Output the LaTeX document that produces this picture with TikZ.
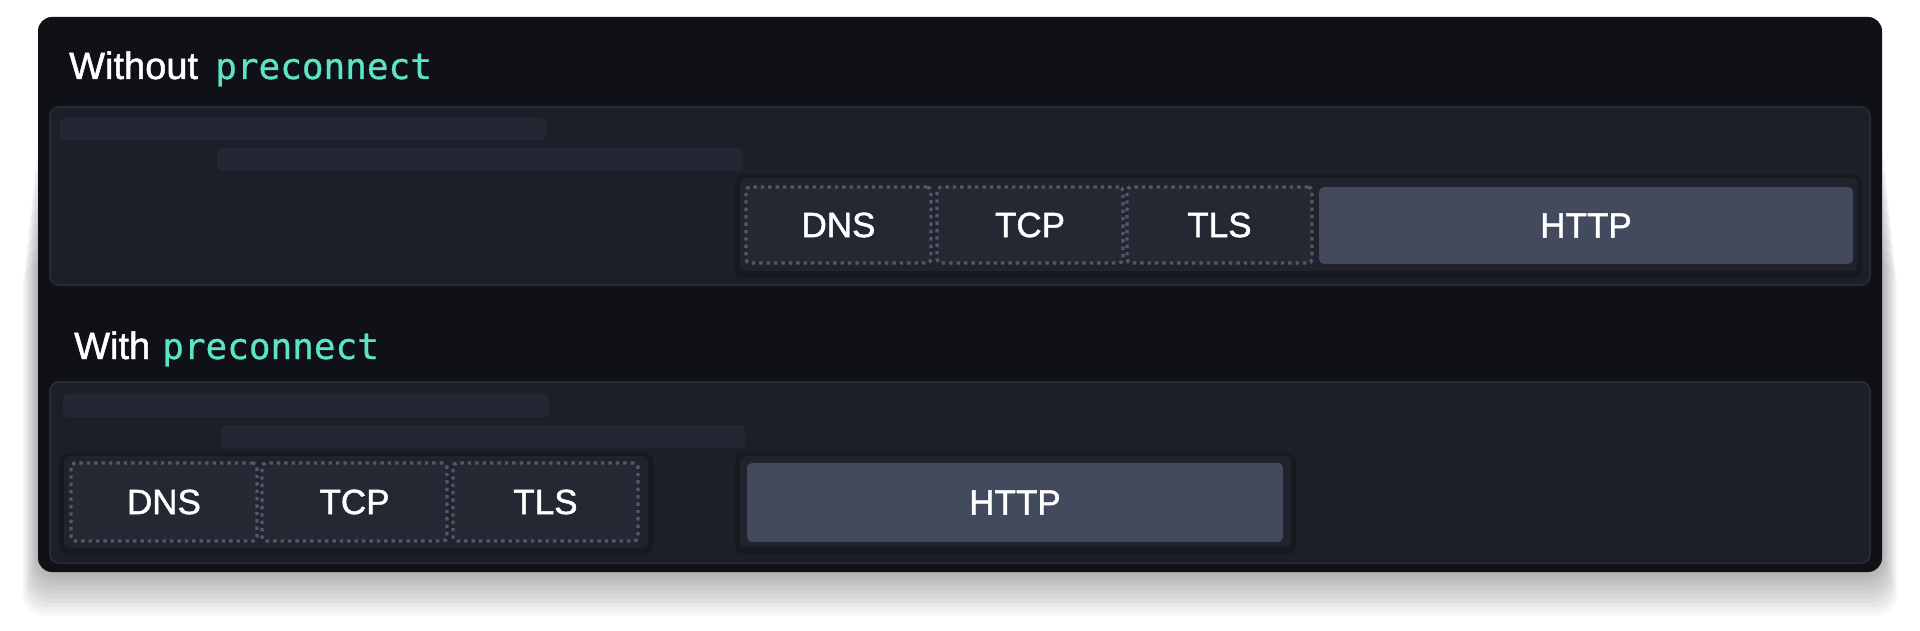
\documentclass[tikz,border=0pt]{standalone}
\usepackage{fontspec}
\setmainfont{Liberation Sans}
\newfontfamily\labelfont[FakeBold=1.3]{Liberation Sans}
\newfontfamily\codefont[FakeBold=0.8]{DejaVu Sans Mono}
\definecolor{outerc}{HTML}{101116}
\definecolor{panelc}{HTML}{1C1F27}
\definecolor{panelb}{HTML}{262A35}
\definecolor{barc}{HTML}{232733}
\definecolor{groupc}{HTML}{20232C}
\definecolor{stepc}{HTML}{242833}
\definecolor{dotc}{HTML}{525769}
\definecolor{httpc}{HTML}{444A5E}
\definecolor{tealc}{HTML}{5CE5C5}
\begin{document}
\begin{tikzpicture}[x=1pt,y=-1pt,
  box/.style={anchor=north west, inner sep=0pt, outer sep=0pt},
  outerbox/.style={box, fill=outerc, rounded corners=14pt},
  panel/.style={box, fill=panelc, draw=panelb, line width=2pt, rounded corners=9pt},
  bar/.style={box, fill=barc, rounded corners=4pt},
  group/.style={box, fill=groupc, rounded corners=5pt},
  stepbox/.style={box, fill=stepc, draw=dotc, line width=3.4pt, dash pattern=on 3.4pt off 4pt, rounded corners=4pt, text=white, font=\labelfont\fontsize{35}{40}\selectfont},
  httpbox/.style={box, fill=httpc, rounded corners=5pt, text=white, font=\labelfont\fontsize{35}{40}\selectfont},
  title/.style={anchor=base west, inner sep=0pt, text=white, font=\labelfont\fontsize{38}{44}\selectfont},
  code/.style={anchor=base west, inner sep=0pt, text=tealc, font=\codefont\fontsize{36}{42}\selectfont}
]
\useasboundingbox (0,0) rectangle (1920,631);
\fill[white] (0,0) rectangle (1920,631);
% soft shadow of the frame
\foreach \k in {1,...,10}{
  \fill[black, opacity=0.03, rounded corners=22pt] (38-1.5*\k, 120+14*\k) rectangle (1882+1.5*\k, 572+4.4*\k);
}
\node[outerbox, minimum width=1844pt, minimum height=555pt] (frame) at (38,17) {};

% ---------- Without preconnect ----------
\node[title] (t1a) at (69,79) {Without};
\node[code] (t1b) at (215,79) {preconnect};
\node[panel, minimum width=1820pt, minimum height=178pt] (p1) at (50,107) {};
\node[bar, minimum width=486pt, minimum height=22pt] (b1a) at (60,118) {};
\node[bar, minimum width=526pt, minimum height=23pt] (b1b) at (217,148) {};
\fill[black, opacity=0.18, rounded corners=8pt] (735,175) rectangle (1862,278);
\node[group, minimum width=1117pt, minimum height=93pt] (g1) at (740,178) {};
\node[stepbox, minimum width=185pt, minimum height=76pt] (dns1) at (746,187) {DNS};
\node[stepbox, minimum width=186pt, minimum height=76pt] (tcp1) at (937,187) {TCP};
\node[stepbox, minimum width=185pt, minimum height=76pt] (tls1) at (1127,187) {TLS};
\node[httpbox, minimum width=534pt, minimum height=77pt] (http1) at (1319,187) {HTTP};

% ---------- With preconnect ----------
\node[title] (t2a) at (74,359) {With};
\node[code] (t2b) at (162,359) {preconnect};
\node[panel, minimum width=1820pt, minimum height=181pt] (p2) at (50,382) {};
\node[bar, minimum width=486pt, minimum height=23pt] (b2a) at (63,394) {};
\node[bar, minimum width=524pt, minimum height=23pt] (b2b) at (221,425) {};
\fill[black, opacity=0.18, rounded corners=8pt] (59,453) rectangle (653,555);
\node[group, minimum width=584pt, minimum height=92pt] (g2) at (64,456) {};
\node[stepbox, minimum width=186pt, minimum height=78pt] (dns2) at (71,463) {DNS};
\node[stepbox, minimum width=185pt, minimum height=78pt] (tcp2) at (262,463) {TCP};
\node[stepbox, minimum width=185pt, minimum height=78pt] (tls2) at (453,463) {TLS};
\fill[black, opacity=0.18, rounded corners=8pt] (735,453) rectangle (1296,554);
\node[group, minimum width=551pt, minimum height=91pt] (g3) at (740,456) {};
\node[httpbox, minimum width=536pt, minimum height=79pt] (http2) at (747,463) {HTTP};
\end{tikzpicture}
\end{document}
